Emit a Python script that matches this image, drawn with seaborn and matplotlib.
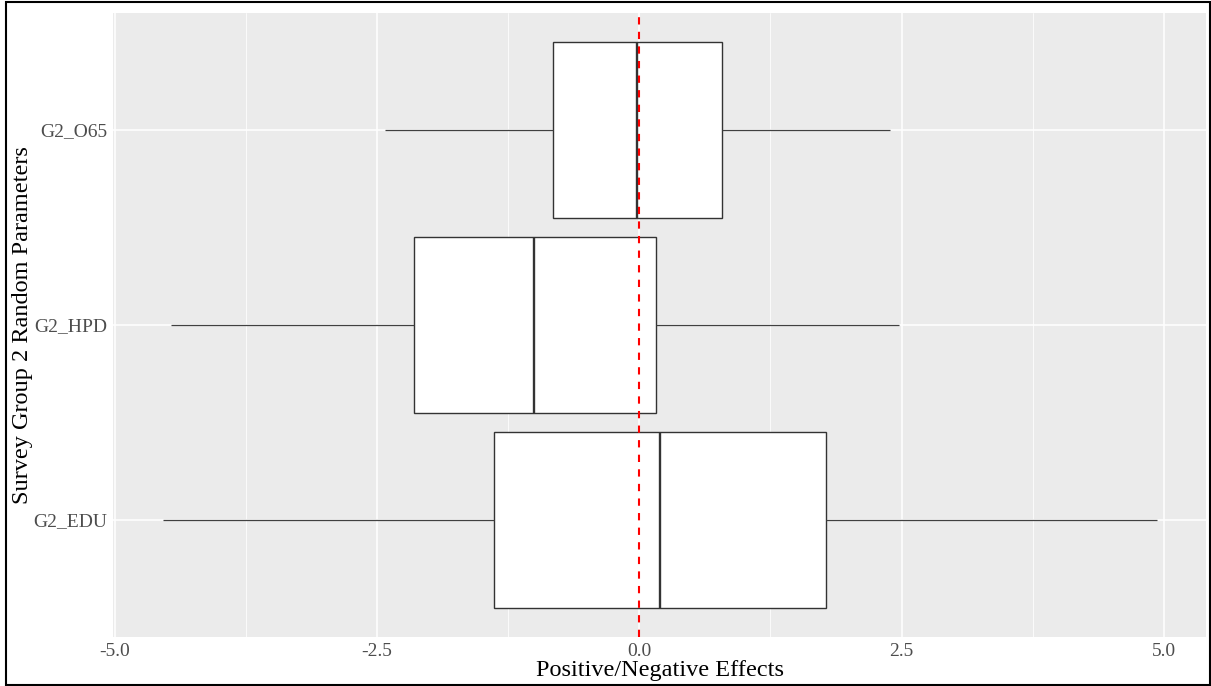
import numpy as np
import pandas as pd
import matplotlib
matplotlib.use("Agg")
import matplotlib.pyplot as plt
import seaborn as sns
from matplotlib.patches import Rectangle
from matplotlib.ticker import MultipleLocator

# box summaries: min, q1, median, q3, max
params = ["G2_O65", "G2_HPD", "G2_EDU"]
o65 = [-2.42, -0.82, -0.02, 0.79, 2.39]
hpd = [-4.46, -2.15, -1.00, 0.16, 2.47]
edu = [-4.54, -1.38, 0.20, 1.78, 4.93]
x_ticks = [-5.0, -2.5, 0.0, 2.5, 5.0]
x_labels = ["-5.0", "-2.5", "0.0", "2.5", "5.0"]

df = pd.DataFrame({
    "param": np.repeat(params, 5),
    "value": o65 + hpd + edu,
})

sns.set_style("white")
plt.rcParams["font.family"] = ["Liberation Serif", "DejaVu Serif"]

fig = plt.figure(figsize=(12.11, 6.86), dpi=100)
ax = fig.add_axes([0.0937, 0.0714, 0.9022, 0.9096])
ax.set_facecolor("#EBEBEB")

sns.boxplot(data=df, x="value", y="param", order=params, orient="h",
            color="white", saturation=1, linecolor="#333333", linewidth=1.0,
            width=0.9, whis=(0, 100), showcaps=False, fliersize=0,
            medianprops=dict(linewidth=1.7, color="#333333"),
            whiskerprops=dict(linewidth=0.9, color="#404040"),
            boxprops=dict(facecolor="white", edgecolor="#333333"),
            zorder=3, ax=ax)

ax.axvline(0, color="red", ls=(0, (3.5, 3.5)), lw=1.5, zorder=4)

ax.set_xlim(-5.01, 5.40)
ax.set_ylim(2.6, -0.6)
ax.set_xticks(x_ticks)
ax.set_xticklabels(x_labels)
ax.xaxis.set_minor_locator(MultipleLocator(1.25))

ax.set_axisbelow(True)
ax.grid(which="major", color="white", lw=1.1)
ax.grid(which="minor", axis="x", color="white", lw=0.55)
for s in ax.spines.values():
    s.set_visible(False)

ax.tick_params(axis="both", which="major", length=3, width=0.8,
               color="#333333", labelcolor="#4D4D4D", labelsize=14, pad=1.5)
ax.tick_params(axis="x", which="minor", length=0)

ax.set_xlabel("Positive/Negative Effects", fontsize=17.5, color="black", labelpad=0)
ax.set_ylabel("Survey Group 2 Random Parameters", fontsize=17.5, color="black", labelpad=0)

fig.patches.append(Rectangle((6 / 1211, 1.5 / 686), 1204 / 1211, 683 / 686,
                             transform=fig.transFigure, fill=False,
                             edgecolor="black", lw=1.5))

fig.savefig("out.png", dpi=100)
